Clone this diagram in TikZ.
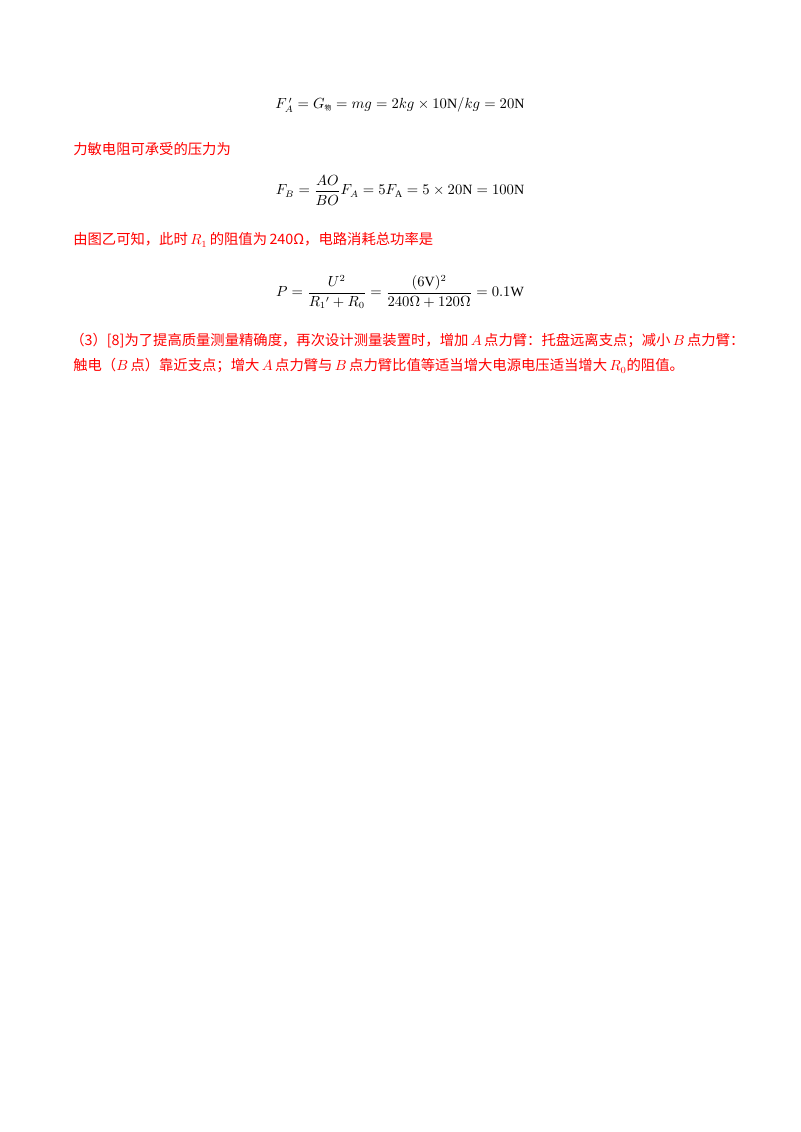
\documentclass[tikz,border=0pt]{standalone}
\usepackage{amsmath}
\usepackage{fontspec}
\usepackage{tikz}
\usepackage{xcolor}
\setmainfont{Liberation Serif}
\newfontfamily\cjk{Noto Sans CJK SC}
\tikzset{
    note-line/.style = {anchor=west, inner sep=0pt, text=red, font=\cjk\fontsize{10.7}{13}\selectfont},
    formula-line/.style = {inner sep=0pt, font=\fontsize{10.5}{13}\selectfont},
}

\begin{document}
\begin{tikzpicture}[x=0.02625cm, y=-0.02625cm]
\useasboundingbox (0,0) rectangle (800,1132);
\node[formula-line] (forceA) at (400,105)
    {$F_A^{\,\prime} = G_{\hbox{\tiny\cjk 物}} = mg = 2kg \times 10\mathrm{N}/kg = 20\mathrm{N}$};
\node[note-line] (loadText) at (73,149) {力敏电阻可承受的压力为};
\node[formula-line] (forceB) at (400,190)
    {$F_B = \dfrac{AO}{BO} F_A = 5F_{\mathrm{A}} = 5\times 20\mathrm{N} = 100\mathrm{N}$};
\node[note-line] (graphText) at (73,240) {由图乙可知，此时\,$R_1$\,的阻值为\,240Ω，电路消耗总功率是};
\node[formula-line] (power) at (400,292)
    {$P = \dfrac{U^2}{R_1{}' + R_0} = \dfrac{(6\mathrm{V})^2}{240\Omega + 120\Omega} = 0.1\mathrm{W}$};
% part (3)
\node[note-line] (partThree) at (70,341)
    {（3）[8]为了提高质量测量精确度，再次设计测量装置时，增加\,$A$\,点力臂：托盘远离支点；减小\,$B$\,点力臂：};
\node[note-line] (partThreeB) at (73,366)
    {触电（$B$\,点）靠近支点；增大\,$A$\,点力臂与\,$B$\,点力臂比值等适当增大电源电压适当增大\,$R_0$的阻值。};
\end{tikzpicture}
\end{document}
